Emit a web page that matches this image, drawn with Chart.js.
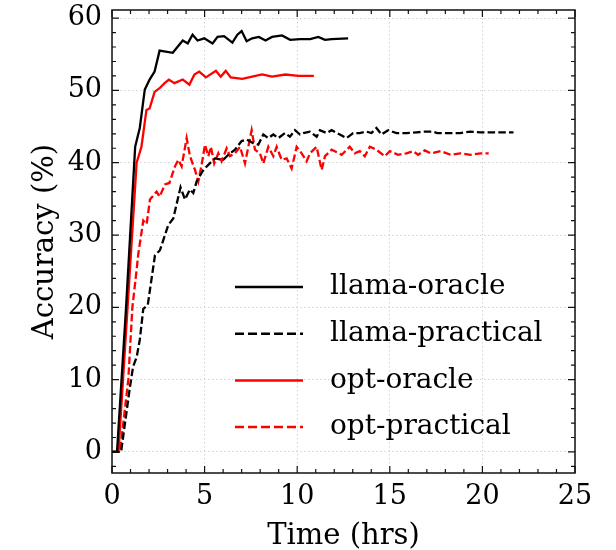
<!DOCTYPE html>
<html>
<head>
<meta charset="utf-8">
<script src="https://cdn.jsdelivr.net/npm/chart.js@4.4.1/dist/chart.umd.min.js"></script>
<style>
  html, body { margin: 0; padding: 0; background: #fff; }
  #chart { display: block; }
</style>
</head>
<body>
<canvas id="chart" width="616" height="550"></canvas>
<script>
// values (time in hrs, accuracy in %)
var llama_oracle_x = [0, 0.27, 0.76, 1.25, 1.5, 1.77, 2.03, 2.3, 2.57, 3.28, 3.82, 4.09, 4.35, 4.62, 4.98, 5.43, 5.7, 6.05, 6.5, 6.77, 7.0, 7.27, 7.57, 7.93, 8.29, 8.64, 9.18, 9.62, 10.16, 10.7, 11.14, 11.5, 11.86, 12.75];
var llama_oracle_y = [0, 0, 20, 42.2, 44.8, 50.1, 51.5, 52.6, 55.5, 55.2, 56.9, 56.5, 57.7, 56.9, 57.2, 56.5, 57.4, 57.5, 56.6, 57.7, 58.2, 56.8, 57.2, 57.4, 56.9, 57.4, 57.6, 57.0, 57.1, 57.1, 57.4, 57.0, 57.1, 57.2];

var llama_practical_x = [0, 0.49, 0.97, 1.14, 1.33, 1.5, 1.69, 1.93, 2.32, 2.59, 3.04, 3.31, 3.7, 3.94, 4.21, 4.39, 4.57, 4.93, 5.2, 5.56, 6.01, 6.28, 6.64, 7.0, 7.27, 7.63, 7.9, 8.17, 8.44, 8.71, 8.98, 9.34, 9.61, 9.88, 10.15, 10.33, 10.69, 11.05, 11.23, 11.59, 11.86, 12.3, 12.66, 13.02, 13.38, 13.74, 14.01, 14.28, 14.55, 14.91, 15.36, 15.9, 16.44, 16.89, 17.3, 17.57, 18.1, 18.8, 19.36, 19.9, 20.43, 20.97, 21.68];
var llama_practical_y = [0, 0, 9.0, 11.8, 13.1, 15.5, 19.8, 20.3, 27.2, 27.9, 31.4, 32.3, 36.6, 34.9, 36.3, 35.8, 37.4, 39.0, 39.7, 40.6, 40.4, 41.1, 41.8, 43.0, 43.2, 42.7, 42.5, 43.9, 43.4, 43.9, 43.4, 44.1, 43.6, 44.5, 43.9, 44.1, 44.3, 43.6, 44.5, 44.1, 44.5, 43.9, 43.4, 44.1, 44.1, 44.3, 44.1, 44.8, 43.9, 44.5, 44.1, 44.1, 44.2, 44.3, 44.3, 44.1, 44.1, 44.1, 44.3, 44.2, 44.2, 44.2, 44.2];

var opt_oracle_x = [0, 0.35, 0.84, 1.33, 1.59, 1.86, 2.03, 2.3, 2.57, 2.84, 3.07, 3.37, 3.82, 4.18, 4.45, 4.71, 5.07, 5.61, 5.87, 6.14, 6.41, 7.03, 7.57, 8.1, 8.64, 9.36, 10.07, 10.9];
var opt_oracle_y = [0, 0, 20, 40, 42.2, 47.3, 47.5, 49.8, 50.3, 51.0, 51.5, 51.0, 51.5, 50.8, 52.2, 52.6, 51.8, 52.7, 51.9, 52.7, 51.8, 51.6, 51.9, 52.2, 51.9, 52.2, 52.0, 52.0];

var opt_practical_x = [0, 0.43, 0.88, 1.1, 1.33, 1.42, 1.69, 1.87, 2.05, 2.41, 2.57, 2.86, 3.1, 3.4, 3.58, 3.76, 4.03, 4.21, 4.48, 4.66, 4.84, 5.02, 5.2, 5.34, 5.52, 5.74, 5.92, 6.19, 6.37, 6.64, 6.91, 7.18, 7.54, 7.72, 7.99, 8.17, 8.44, 8.71, 8.89, 9.16, 9.43, 9.7, 9.97, 10.24, 10.51, 10.69, 11.05, 11.32, 11.5, 11.86, 12.4, 12.84, 13.11, 13.38, 13.65, 13.92, 14.28, 14.73, 15.0, 15.45, 15.9, 16.26, 16.53, 16.89, 17.2, 17.75, 18.28, 18.8, 19.36, 19.9, 20.34];
var opt_practical_y = [0, 0, 10, 20, 25.2, 27.4, 32.0, 31.5, 34.9, 36.0, 35.3, 37.0, 37.2, 39.5, 40.4, 39.5, 43.4, 40.9, 39.0, 37.4, 39.7, 42.5, 40.9, 42.2, 39.9, 41.3, 40.2, 42.0, 40.9, 41.3, 42.2, 39.9, 44.5, 41.8, 41.3, 39.9, 42.2, 40.9, 42.2, 40.4, 40.6, 39.2, 42.2, 41.3, 40.2, 41.3, 42.2, 39.0, 40.9, 41.8, 41.1, 42.2, 41.3, 41.6, 40.9, 42.2, 41.8, 40.9, 41.6, 41.1, 41.3, 41.6, 41.1, 41.7, 41.3, 41.6, 41.1, 41.3, 41.1, 41.3, 41.3];

var series_labels = ['llama-oracle', 'llama-practical', 'opt-oracle', 'opt-practical'];
var x_tick_values = [0, 5, 10, 15, 20, 25];
var y_tick_values = [0, 10, 20, 30, 40, 50, 60];

var serif = "'DejaVu Serif', serif";
var dash = [7.5, 3.2];

function to_points(xs, ys) {
    var pts = [];
    for (var i = 0; i < xs.length; i++) {
        pts.push({x: xs[i], y: ys[i]});
    }
    return pts;
}

function line_set(label, xs, ys, color, dashed) {
    return {
        label: label,
        data: to_points(xs, ys),
        borderColor: color,
        backgroundColor: color,
        borderWidth: 2.3,
        borderDash: dashed ? dash : [],
        pointRadius: 0,
        tension: 0,
        fill: false
    };
}

// box, inward ticks on all sides, and the legend inside the axes
var frame_plugin = {
    id: 'frame',
    afterDatasetsDraw: function(chart) {
        var ctx = chart.ctx;
        var a = chart.chartArea;
        var sx = chart.scales.x, sy = chart.scales.y;
        ctx.save();
        ctx.strokeStyle = '#111';
        ctx.lineWidth = 1.5;
        ctx.setLineDash([]);
        ctx.strokeRect(a.left, a.top, a.right - a.left, a.bottom - a.top);

        ctx.lineWidth = 1.2;
        ctx.beginPath();
        for (var t = 0; t <= 25; t++) {
            var px = sx.getPixelForValue(t);
            var len = (t % 5 == 0) ? 7 : 4;
            ctx.moveTo(px, a.bottom); ctx.lineTo(px, a.bottom - len);
            ctx.moveTo(px, a.top); ctx.lineTo(px, a.top + len);
        }
        for (var v = -2; v <= 60; v += 2) {
            var py = sy.getPixelForValue(v);
            var l = (v % 10 == 0) ? 7 : 4;
            ctx.moveTo(a.left, py); ctx.lineTo(a.left + l, py);
            ctx.moveTo(a.right, py); ctx.lineTo(a.right - l, py);
        }
        ctx.stroke();

        var sets = chart.data.datasets;
        ctx.font = '28px ' + serif;
        ctx.textBaseline = 'middle';
        ctx.textAlign = 'left';
        for (var i = 0; i < sets.length; i++) {
            var y = a.top + 277 + i * 46.7;
            ctx.strokeStyle = sets[i].borderColor;
            ctx.lineWidth = 2.5;
            ctx.setLineDash(sets[i].borderDash.length ? [9, 4] : []);
            ctx.beginPath();
            ctx.moveTo(a.left + 123, y);
            ctx.lineTo(a.left + 191, y);
            ctx.stroke();
            ctx.fillStyle = '#000';
            ctx.fillText(sets[i].label, a.left + 218, y);
        }
        ctx.restore();
    }
};

var ctx = document.getElementById('chart').getContext('2d');
var chart = new Chart(ctx, {
    type: 'line',
    data: {
        datasets: [
            line_set(series_labels[0], llama_oracle_x, llama_oracle_y, '#000', false),
            line_set(series_labels[1], llama_practical_x, llama_practical_y, '#000', true),
            line_set(series_labels[2], opt_oracle_x, opt_oracle_y, '#f00', false),
            line_set(series_labels[3], opt_practical_x, opt_practical_y, '#f00', true)
        ]
    },
    options: {
        responsive: false,
        animation: false,
        layout: {padding: {left: 0, right: 41, top: 10, bottom: 0}},
        plugins: {
            legend: {display: false},
            tooltip: {enabled: false}
        },
        scales: {
            x: {
                type: 'linear',
                min: 0,
                max: 25,
                afterBuildTicks: function(s) {
                    s.ticks = x_tick_values.map(function(v) { return {value: v}; });
                },
                afterFit: function(s) {
                    s.height = 77;
                    s.paddingLeft = 0;
                    s.paddingRight = 0;
                },
                ticks: {color: '#000', padding: 8, maxRotation: 0, font: {family: serif, size: 27}},
                grid: {color: '#c8c8c8', lineWidth: 0.8, drawTicks: false},
                border: {display: false, dash: [1.5, 2.5]},
                title: {display: true, text: 'Time (hrs)', color: '#000', padding: {top: 0, bottom: 0}, font: {family: serif, size: 29, lineHeight: 0.9}}
            },
            y: {
                type: 'linear',
                min: -2.91,
                max: 61.12,
                afterBuildTicks: function(s) {
                    s.ticks = y_tick_values.map(function(v) { return {value: v}; });
                },
                afterFit: function(s) {
                    s.width = 112;
                    s.paddingTop = 0;
                    s.paddingBottom = 0;
                },
                ticks: {color: '#000', padding: 10, font: {family: serif, size: 27}},
                grid: {color: '#c8c8c8', lineWidth: 0.8, drawTicks: false},
                border: {display: false, dash: [1.5, 2.5]},
                title: {display: true, text: 'Accuracy (%)', color: '#000', padding: {top: 28, bottom: 0}, font: {family: serif, size: 29}}
            }
        }
    },
    plugins: [frame_plugin]
});
</script>
</body>
</html>
